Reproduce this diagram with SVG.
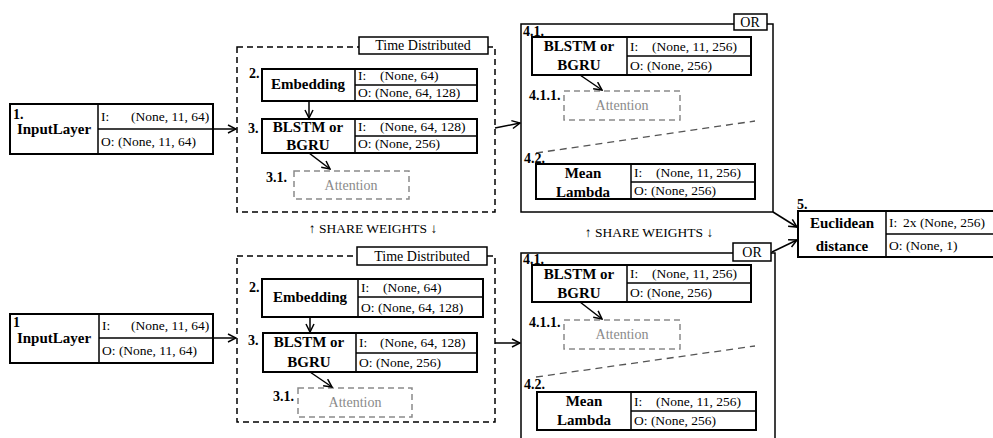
<svg xmlns="http://www.w3.org/2000/svg" width="993" height="438" viewBox="0 0 993 438">
  <style>
    text { font-family: "Liberation Serif", "DejaVu Serif", serif; fill: #000; }
    .nb { font-size: 15px; font-weight: bold; text-anchor: middle; }
    .num { font-size: 14px; font-weight: bold; }
    .io { font-size: 13.5px; }
    .tag { font-size: 14px; text-anchor: middle; }
    .att { font-size: 14px; text-anchor: middle; fill: #8a8a8a; }
    .share { font-size: 13.5px; text-anchor: middle; }
    .box { fill: #fff; stroke: #000; stroke-width: 2; }
    .sep { stroke: #000; stroke-width: 1.5; fill: none; }
    .td { fill: none; stroke: #000; stroke-width: 1.5; stroke-dasharray: 6 4; }
    .or { fill: none; stroke: #000; stroke-width: 1.5; }
    .lbl { fill: #fff; stroke: #000; stroke-width: 1.5; }
    .attbox { fill: none; stroke: #8a8a8a; stroke-width: 1.5; stroke-dasharray: 6 4; }
    .split { stroke: #555; stroke-width: 1.3; stroke-dasharray: 7 5; fill: none; }
    .edge { stroke: #000; stroke-width: 1.5; fill: none; marker-end: url(#arr); }
  </style>
  <defs>
    <marker id="arr" viewBox="0 0 10 10" refX="9" refY="5" markerWidth="10" markerHeight="10" markerUnits="userSpaceOnUse" orient="auto">
      <path d="M1,1 L9,5 L1,9" fill="none" stroke="#000" stroke-width="1.5"/>
    </marker>
  </defs>

  <!-- ===== upper branch ===== -->
  <g id="input-top">
    <rect class="box" x="10" y="104" width="203" height="50"/>
    <line class="sep" x1="98" y1="104" x2="98" y2="154"/>
    <line class="sep" x1="98" y1="129" x2="213" y2="129"/>
    <text class="num" x="13" y="119">1.</text>
    <text class="nb" x="54" y="134">InputLayer</text>
    <text class="io" x="101" y="121">I:</text>
    <text class="io" x="131" y="121">(None, 11, 64)</text>
    <text class="io" x="101" y="146">O: (None, 11, 64)</text>
  </g>

  <g id="timedist-top">
    <rect class="td" x="237" y="47" width="258" height="165"/>
    <rect class="lbl" x="359" y="37" width="129" height="17"/>
    <text class="tag" x="423" y="50">Time Distributed</text>
  </g>

  <g id="embedding-top">
    <rect class="box" x="262" y="69" width="215" height="32"/>
    <line class="sep" x1="355" y1="69" x2="355" y2="101"/>
    <line class="sep" x1="355" y1="85" x2="477" y2="85"/>
    <text class="num" x="249" y="78">2.</text>
    <text class="nb" x="308" y="89">Embedding</text>
    <text class="io" x="358" y="80">I:</text>
    <text class="io" x="380" y="80">(None, 64)</text>
    <text class="io" x="358" y="97">O: (None, 64, 128)</text>
  </g>

  <g id="rnn-top">
    <rect class="box" x="262" y="119" width="215" height="34"/>
    <line class="sep" x1="355" y1="119" x2="355" y2="153"/>
    <line class="sep" x1="355" y1="136" x2="477" y2="136"/>
    <text class="num" x="248" y="133">3.</text>
    <text class="nb" x="308" y="132">BLSTM or</text>
    <text class="nb" x="308" y="150">BGRU</text>
    <text class="io" x="358" y="131">I:</text>
    <text class="io" x="380" y="131">(None, 64, 128)</text>
    <text class="io" x="358" y="148">O: (None, 256)</text>
  </g>

  <g id="attention-top">
    <rect class="attbox" x="294" y="171" width="115" height="28"/>
    <text class="num" x="266" y="182">3.1.</text>
    <text class="att" x="351" y="190">Attention</text>
  </g>

  <g id="or-top">
    <rect class="or" x="521" y="24" width="252" height="188"/>
    <rect class="lbl" x="734" y="14" width="33" height="16"/>
    <text class="tag" x="750" y="27">OR</text>
    <line class="split" x1="536" y1="153" x2="755" y2="121"/>
  </g>

  <g id="pool-rnn-top">
    <rect class="box" x="532" y="37" width="219" height="38"/>
    <line class="sep" x1="627" y1="37" x2="627" y2="75"/>
    <line class="sep" x1="627" y1="56" x2="751" y2="56"/>
    <text class="num" x="523" y="36">4.1.</text>
    <text class="nb" x="579" y="51">BLSTM or</text>
    <text class="nb" x="579" y="70">BGRU</text>
    <text class="io" x="630" y="51">I:</text>
    <text class="io" x="652" y="51">(None, 11, 256)</text>
    <text class="io" x="630" y="70">O: (None, 256)</text>
  </g>

  <g id="pool-attention-top">
    <rect class="attbox" x="564" y="91" width="116" height="29"/>
    <text class="num" x="529" y="100">4.1.1.</text>
    <text class="att" x="622" y="110">Attention</text>
  </g>

  <g id="mean-top">
    <rect class="box" x="536" y="164" width="219" height="35"/>
    <line class="sep" x1="631" y1="164" x2="631" y2="199"/>
    <line class="sep" x1="631" y1="182" x2="755" y2="182"/>
    <text class="num" x="524" y="163">4.2.</text>
    <text class="nb" x="583" y="178">Mean</text>
    <text class="nb" x="583" y="197">Lambda</text>
    <text class="io" x="634" y="177">I:</text>
    <text class="io" x="656" y="177">(None, 11, 256)</text>
    <text class="io" x="634" y="195">O: (None, 256)</text>
  </g>

  <!-- ===== lower branch ===== -->
  <g id="input-bottom">
    <rect class="box" x="10" y="314" width="203" height="49"/>
    <line class="sep" x1="99" y1="314" x2="99" y2="363"/>
    <line class="sep" x1="99" y1="338" x2="213" y2="338"/>
    <text class="num" x="13" y="327">1</text>
    <text class="nb" x="54" y="343">InputLayer</text>
    <text class="io" x="102" y="330">I:</text>
    <text class="io" x="131" y="330">(None, 11, 64)</text>
    <text class="io" x="102" y="355">O: (None, 11, 64)</text>
  </g>

  <g id="timedist-bottom">
    <rect class="td" x="237" y="256" width="258" height="166"/>
    <rect class="lbl" x="357" y="247" width="130" height="18"/>
    <text class="tag" x="422" y="261">Time Distributed</text>
  </g>

  <g id="embedding-bottom">
    <rect class="box" x="262" y="279" width="221" height="38"/>
    <line class="sep" x1="358" y1="279" x2="358" y2="317"/>
    <line class="sep" x1="358" y1="297" x2="483" y2="297"/>
    <text class="num" x="249" y="292">2.</text>
    <text class="nb" x="310" y="302">Embedding</text>
    <text class="io" x="361" y="292">I:</text>
    <text class="io" x="383" y="292">(None, 64)</text>
    <text class="io" x="361" y="312">O: (None, 64, 128)</text>
  </g>

  <g id="rnn-bottom">
    <rect class="box" x="263" y="333" width="214" height="39"/>
    <line class="sep" x1="356" y1="333" x2="356" y2="372"/>
    <line class="sep" x1="356" y1="353" x2="477" y2="353"/>
    <text class="num" x="248" y="345">3.</text>
    <text class="nb" x="309" y="347">BLSTM or</text>
    <text class="nb" x="309" y="367">BGRU</text>
    <text class="io" x="359" y="347">I:</text>
    <text class="io" x="380" y="347">(None, 64, 128)</text>
    <text class="io" x="359" y="367">O: (None, 256)</text>
  </g>

  <g id="attention-bottom">
    <rect class="attbox" x="298" y="388" width="114" height="29"/>
    <text class="num" x="273" y="401">3.1.</text>
    <text class="att" x="355" y="407">Attention</text>
  </g>

  <g id="or-bottom">
    <rect class="or" x="521" y="253" width="254" height="200"/>
    <rect class="lbl" x="733" y="243" width="38" height="18"/>
    <text class="tag" x="752" y="257">OR</text>
    <line class="split" x1="536" y1="377" x2="755" y2="346"/>
  </g>

  <g id="pool-rnn-bottom">
    <rect class="box" x="532" y="265" width="219" height="37"/>
    <line class="sep" x1="627" y1="265" x2="627" y2="302"/>
    <line class="sep" x1="627" y1="283" x2="751" y2="283"/>
    <text class="num" x="523" y="264">4.1.</text>
    <text class="nb" x="579" y="279">BLSTM or</text>
    <text class="nb" x="579" y="298">BGRU</text>
    <text class="io" x="630" y="278">I:</text>
    <text class="io" x="652" y="278">(None, 11, 256)</text>
    <text class="io" x="630" y="297">O: (None, 256)</text>
  </g>

  <g id="pool-attention-bottom">
    <rect class="attbox" x="564" y="320" width="116" height="29"/>
    <text class="num" x="529" y="327">4.1.1.</text>
    <text class="att" x="622" y="339">Attention</text>
  </g>

  <g id="mean-bottom">
    <rect class="box" x="537" y="392" width="219" height="38"/>
    <line class="sep" x1="631" y1="392" x2="631" y2="430"/>
    <line class="sep" x1="631" y1="411" x2="756" y2="411"/>
    <text class="num" x="524" y="389">4.2.</text>
    <text class="nb" x="584" y="406">Mean</text>
    <text class="nb" x="584" y="425">Lambda</text>
    <text class="io" x="634" y="406">I:</text>
    <text class="io" x="656" y="406">(None, 11, 256)</text>
    <text class="io" x="634" y="425">O: (None, 256)</text>
  </g>

  <!-- ===== merge ===== -->
  <g id="euclidean">
    <rect class="box" x="798" y="211" width="205" height="46"/>
    <line class="sep" x1="886" y1="211" x2="886" y2="257"/>
    <line class="sep" x1="886" y1="234" x2="1003" y2="234"/>
    <text class="num" x="797" y="209">5.</text>
    <text class="nb" x="842" y="228">Euclidean</text>
    <text class="nb" x="842" y="251">distance</text>
    <text class="io" x="889" y="227">I:</text>
    <text class="io" x="903" y="227">2x (None, 256)</text>
    <text class="io" x="889" y="250">O: (None, 1)</text>
  </g>

  <g id="share-labels">
    <text class="share" x="373" y="233">↑ SHARE WEIGHTS ↓</text>
    <text class="share" x="649" y="237">↑ SHARE WEIGHTS ↓</text>
  </g>

  <!-- ===== connectors ===== -->
  <g id="connectors">
    <line class="edge" x1="213" y1="129" x2="236" y2="129"/>
    <line class="edge" x1="309" y1="101" x2="309" y2="118"/>
    <line class="edge" x1="309" y1="153" x2="330" y2="169"/>
    <line class="edge" x1="495" y1="128" x2="520" y2="123"/>
    <line class="edge" x1="580" y1="75" x2="602" y2="90"/>
    <line class="edge" x1="773" y1="212" x2="797" y2="227"/>

    <line class="edge" x1="213" y1="338" x2="236" y2="338"/>
    <line class="edge" x1="310" y1="317" x2="310" y2="332"/>
    <line class="edge" x1="310" y1="372" x2="332" y2="387"/>
    <line class="edge" x1="495" y1="343" x2="520" y2="343"/>
    <line class="edge" x1="580" y1="302" x2="602" y2="319"/>
    <line class="edge" x1="772" y1="252" x2="797" y2="240"/>
  </g>
</svg>
